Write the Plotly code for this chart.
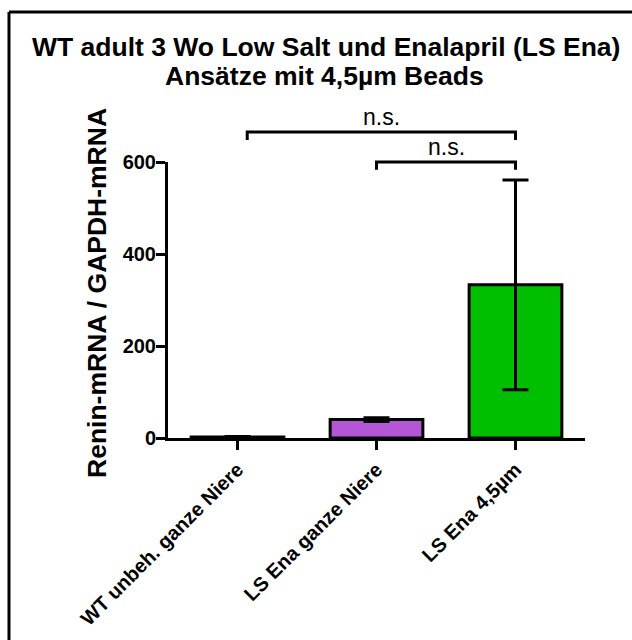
import plotly.graph_objects as go

# ---- data ----
categories = ["WT unbeh. ganze Niere", "LS Ena ganze Niere", "LS Ena 4,5µm"]
means = [2, 40, 333]
errors = [1, 4, 228]
bar_colors = ["#FFFFFF", "#B556D6", "#00BF00"]
y_ticks = [0, 200, 400, 600]

# significance brackets: (left index, right index, level, label)
sig_left = [0, 1]
sig_right = [2, 2]
sig_levels = [665, 600]
sig_labels = ["n.s.", "n.s."]

title_lines = ["WT adult 3 Wo Low Salt und Enalapril (LS Ena)", "Ansätze mit 4,5µm Beads"]
y_title = "Renin-mRNA / GAPDH-mRNA"

# ---- layout geometry ----
W, H = 632, 640
ML, MR, MT, MB = 168, 47, 162, 202
PW, PH = W - ML - MR, H - MT - MB
Y_MAX = 600
FONT = "Liberation Sans, Arial, Helvetica, sans-serif"


def px_x(px):
    return (px - ML) / PW


def px_y(py):
    return (H - MB - py) / PH


def dx(i):
    return (i + 0.5) / len(categories)


def dy(v):
    return v / Y_MAX


fig = go.Figure()
fig.add_trace(go.Bar(
    x=categories, y=means,
    width=0.667,
    marker=dict(color=bar_colors, line=dict(color="black", width=3)),
    error_y=dict(type="data", array=errors, visible=True, color="black", thickness=3, width=13),
    showlegend=False,
))

shapes = []
annotations = []
drop = 17
for l, r, lev, lab in zip(sig_left, sig_right, sig_levels, sig_labels):
    xl = dx(l) + (0.07 / len(categories) if l == 0 else 0)
    xr = dx(r)
    shapes.append(dict(
        type="path", xref="paper", yref="paper",
        path=f"M {xl},{dy(lev - drop)} L {xl},{dy(lev)} L {xr},{dy(lev)} L {xr},{dy(lev - drop)}",
        line=dict(color="black", width=3),
    ))
    annotations.append(dict(
        text=lab, xref="paper", yref="paper", x=(xl + xr) / 2, y=dy(lev),
        xanchor="center", yanchor="bottom", showarrow=False, yshift=0,
        font=dict(family=FONT, size=23, color="black"),
    ))

# outer frame (top and left edges visible)
shapes.append(dict(type="line", xref="paper", yref="paper",
                   x0=px_x(9), x1=px_x(640), y0=px_y(12), y1=px_y(12),
                   line=dict(color="black", width=3)))
shapes.append(dict(type="line", xref="paper", yref="paper",
                   x0=px_x(9), x1=px_x(9), y0=px_y(12), y1=px_y(650),
                   line=dict(color="black", width=3)))

# titles
annotations.append(dict(text=title_lines[0], xref="paper", yref="paper",
                        x=px_x(326), y=px_y(47), xanchor="center", yanchor="middle",
                        showarrow=False,
                        font=dict(family=FONT, size=26.5, color="black", weight="bold")))
annotations.append(dict(text=title_lines[1], xref="paper", yref="paper",
                        x=px_x(324), y=px_y(76), xanchor="center", yanchor="middle",
                        showarrow=False,
                        font=dict(family=FONT, size=26.5, color="black", weight="bold")))
annotations.append(dict(text=y_title, xref="paper", yref="paper",
                        x=px_x(97), y=px_y(293), xanchor="center", yanchor="middle",
                        textangle=-90, showarrow=False,
                        font=dict(family=FONT, size=26.5, color="black", weight="bold")))

fig.update_layout(
    width=W, height=H,
    margin=dict(l=ML, r=MR, t=MT, b=MB, pad=0, autoexpand=False),
    paper_bgcolor="white", plot_bgcolor="white",
    shapes=shapes, annotations=annotations,
    bargap=0.333,
    xaxis=dict(
        range=[-0.5, 2.5], showline=True, linecolor="black", linewidth=3,
        ticks="outside", ticklen=9, tickwidth=3, tickcolor="black",
        tickangle=-45, showgrid=False, zeroline=False, automargin=False,
        tickfont=dict(family=FONT, size=20, color="black", weight="bold"),
    ),
    yaxis=dict(
        range=[0, Y_MAX], tickvals=y_ticks, showline=True, linecolor="black", linewidth=3,
        ticks="outside", ticklen=9, tickwidth=3, tickcolor="black",
        showgrid=False, zeroline=False, automargin=False, ticklabelstandoff=-4,
        tickfont=dict(family=FONT, size=20, color="black", weight="bold"),
    ),
)

fig.write_html("out.html")
